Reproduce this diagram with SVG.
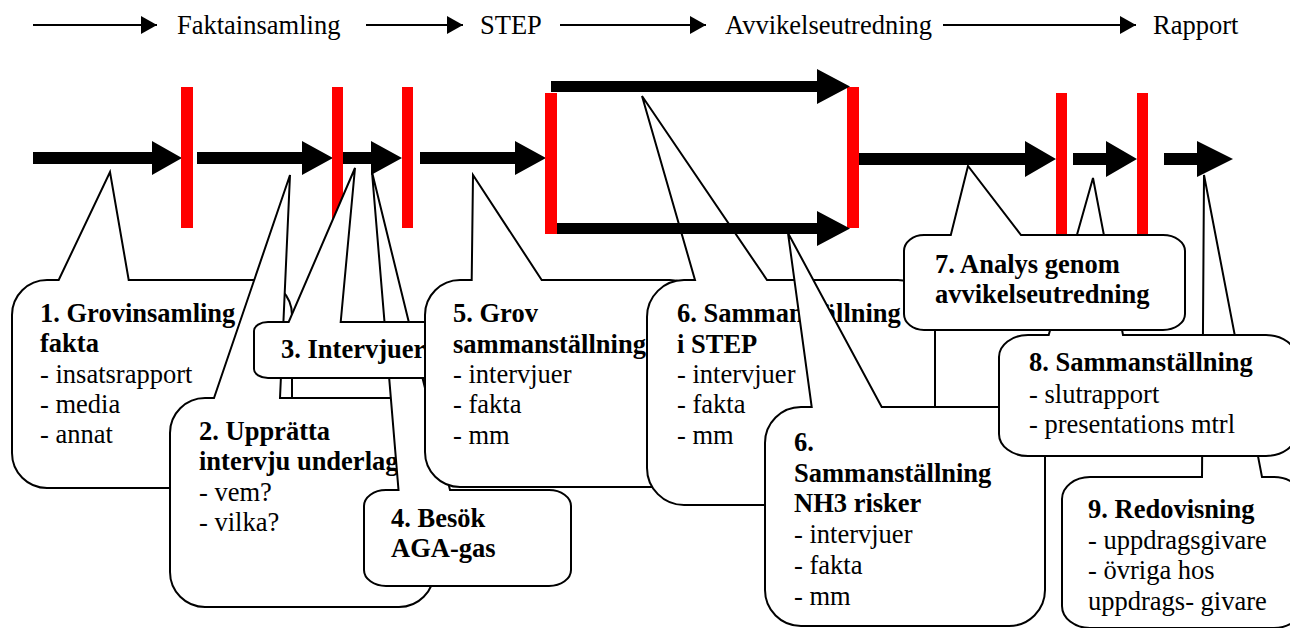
<svg xmlns="http://www.w3.org/2000/svg" width="1290" height="628" viewBox="0 0 1290 628">
<defs>
<marker id="ah" markerUnits="userSpaceOnUse" markerWidth="16" markerHeight="18" refX="16" refY="9" orient="auto">
<path d="M0,0 L16,9 L0,18 Z" fill="#000"/>
</marker>
</defs>
<style>
.cl{fill:#fff;stroke:#000;stroke-width:2;stroke-linejoin:miter}
.t{font-family:"Liberation Serif","Times New Roman",serif;font-size:26.5px;fill:#000}
.b{font-weight:bold}
.red{fill:#ff0000}
.arr{fill:#000}
.hl{stroke:#000;stroke-width:2;marker-end:url(#ah)}
</style>
<rect width="1290" height="628" fill="#fff"/>
<g id="header">
<line class="hl" x1="33" y1="25" x2="157" y2="25"/>
<text class="t" x="177" y="34">Faktainsamling</text>
<line class="hl" x1="366" y1="25" x2="463" y2="25"/>
<text class="t" x="480" y="34">STEP</text>
<line class="hl" x1="560" y1="25" x2="706" y2="25"/>
<text class="t" x="725" y="34">Avvikelseutredning</text>
<line class="hl" x1="943" y1="25" x2="1136" y2="25"/>
<text class="t" x="1153" y="34">Rapport</text>
</g>
<g id="connectors">
<path class="arr" d="M33,152 H152 V141 L182,158 L152,175 V164 H33 Z"/>
<path class="arr" d="M197,152 H302 V141 L333,158 L302,175 V164 H197 Z"/>
<path class="arr" d="M343,152 H371 V141 L402,158 L371,175 V164 H343 Z"/>
<path class="arr" d="M420,152 H515 V141 L546,158 L515,175 V164 H420 Z"/>
<path class="arr" d="M859,153 H1025 V141 L1056,159 L1025,177 V165 H859 Z"/>
<path class="arr" d="M1073,153 H1106 V141 L1137,159 L1106,177 V165 H1073 Z"/>
<path class="arr" d="M1164,153 H1197 V141 L1233,159 L1197,177 V165 H1164 Z"/>
</g>
<g id="milestones">
<rect class="red" x="181" y="87" width="12" height="141"/>
<rect class="red" x="332" y="87" width="11" height="141"/>
<rect class="red" x="402" y="87" width="11" height="141"/>
<rect class="red" x="545" y="93" width="12" height="141"/>
<rect class="red" x="847" y="87" width="12" height="141"/>
<rect class="red" x="1056" y="93" width="11" height="147"/>
<rect class="red" x="1137" y="93" width="11" height="147"/>
</g>
<g id="callout1">
<path class="cl" d="M47,280 L58.7,280 L110,172 L128.7,280 L257,280 A35,35 0 0 1 292,315 L292,453 A35,35 0 0 1 257,488 L47,488 A35,35 0 0 1 12,453 L12,315 A35,35 0 0 1 47,280 Z"/>
<text class="t b" x="40" y="322">1. Grovinsamling</text>
<text class="t b" x="40" y="352">fakta</text>
<text class="t" x="40" y="383">- insatsrapport</text>
<text class="t" x="40" y="413">- media</text>
<text class="t" x="40" y="443">- annat</text>
</g>
<g id="callout2">
<path class="cl" d="M205,398 L214,398 L290,175 L280,398 L399,398 A35,35 0 0 1 434,433 L434,572 A35,35 0 0 1 399,607 L205,607 A35,35 0 0 1 170,572 L170,433 A35,35 0 0 1 205,398 Z"/>
<text class="t b" x="199" y="440">2. Upprätta</text>
<text class="t b" x="199" y="470">intervju underlag</text>
<text class="t" x="199" y="501">- vem?</text>
<text class="t" x="199" y="531">- vilka?</text>
</g>
<g id="callout4">
<path class="cl" d="M386,490 L398.5,490 L372,172 L450,490 L549,490 A22,16 0 0 1 571,506 L571,570 A22,16 0 0 1 549,586 L386,586 A22,16 0 0 1 364,570 L364,506 A22,16 0 0 1 386,490 Z"/>
<text class="t b" x="391" y="527">4. Besök</text>
<text class="t b" x="391" y="557">AGA-gas</text>
</g>
<g id="callout3">
<path class="cl" d="M268,322 L288.7,322 L355,168 L340.7,322 L448,322 A14,9 0 0 1 462,331 L462,369 A14,9 0 0 1 448,378 L268,378 A14,9 0 0 1 254,369 L254,331 A14,9 0 0 1 268,322 Z"/>
<text class="t b" x="281" y="358">3. Intervjuer</text>
</g>
<g id="callout5">
<path class="cl" d="M460,280 L471.7,280 L473,175 L541.7,280 L670,280 A35,35 0 0 1 705,315 L705,452 A35,35 0 0 1 670,487 L460,487 A35,35 0 0 1 425,452 L425,315 A35,35 0 0 1 460,280 Z"/>
<text class="t b" x="453" y="322">5. Grov</text>
<text class="t b" x="453" y="353">sammanställning</text>
<text class="t" x="453" y="383">- intervjuer</text>
<text class="t" x="453" y="413">- fakta</text>
<text class="t" x="453" y="444">- mm</text>
</g>
<g id="callout6">
<path class="cl" d="M684,280 L695,280 L642,96 L767,280 L898,280 A37,37 0 0 1 935,317 L935,468 A37,37 0 0 1 898,505 L684,505 A37,37 0 0 1 647,468 L647,317 A37,37 0 0 1 684,280 Z"/>
<text class="t b" x="677" y="322">6. Sammanställning</text>
<text class="t b" x="677" y="353">i STEP</text>
<text class="t" x="677" y="383">- intervjuer</text>
<text class="t" x="677" y="413">- fakta</text>
<text class="t" x="677" y="444">- mm</text>
</g>
<g id="callout6b">
<path class="cl" d="M801,407 L811.7,407 L788,233 L881.7,407 L1009,407 A36,36 0 0 1 1045,443 L1045,590 A36,36 0 0 1 1009,626 L801,626 A36,36 0 0 1 765,590 L765,443 A36,36 0 0 1 801,407 Z"/>
<text class="t b" x="794" y="451">6.</text>
<text class="t b" x="794" y="482">Sammanställning</text>
<text class="t b" x="794" y="512">NH3 risker</text>
<text class="t" x="794" y="543">- intervjuer</text>
<text class="t" x="794" y="574">- fakta</text>
<text class="t" x="794" y="605">- mm</text>
</g>
<g id="callout9">
<path class="cl" d="M1090,477 L1202,477 L1204,175 L1262,477 L1274,477 A28,22 0 0 1 1302,499 L1302,606 A28,22 0 0 1 1274,628 L1090,628 A28,22 0 0 1 1062,606 L1062,499 A28,22 0 0 1 1090,477 Z"/>
<text class="t b" x="1088" y="518">9. Redovisning</text>
<text class="t" x="1088" y="549">- uppdragsgivare</text>
<text class="t" x="1088" y="579">- övriga hos</text>
<text class="t" x="1088" y="610">uppdrags- givare</text>
</g>
<g id="callout8">
<path class="cl" d="M1028,335 L1048.7,335 L1093,178 L1123,335 L1266,335 A30,22 0 0 1 1296,357 L1296,434 A30,22 0 0 1 1266,456 L1028,456 A29,22 0 0 1 999,434 L999,357 A29,22 0 0 1 1028,335 Z"/>
<text class="t b" x="1029" y="371">8. Sammanställning</text>
<text class="t" x="1029" y="403">- slutrapport</text>
<text class="t" x="1029" y="433">- presentations mtrl</text>
</g>
<g id="callout7">
<path class="cl" d="M924,235 L950.8,235 L968,166 L1021,235 L1163,235 A22,16 0 0 1 1185,251 L1185,314 A22,16 0 0 1 1163,330 L924,330 A20,16 0 0 1 904,314 L904,251 A20,16 0 0 1 924,235 Z"/>
<text class="t b" x="935" y="273">7. Analys genom</text>
<text class="t b" x="935" y="303">avvikelseutredning</text>
</g>
<g id="connectors-step">
<path class="arr" d="M551,81 H817 V69 L850,86.5 L817,104 V92 H551 Z"/>
<path class="arr" d="M557,223 H817 V211 L850,228.5 L817,246 V234 H557 Z"/>
</g>
</svg>
